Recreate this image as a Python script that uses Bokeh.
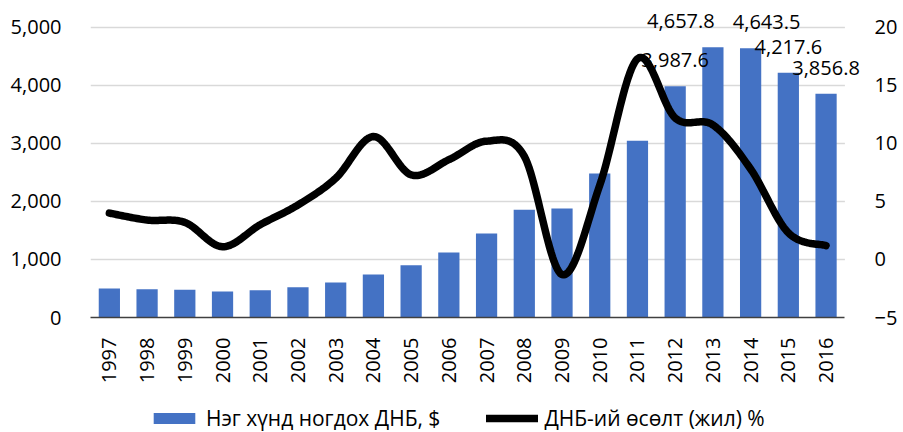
import math
from bokeh.plotting import figure
from bokeh.layouts import column
from bokeh.models import (Range1d, LinearAxis, FixedTicker, NumeralTickFormatter,
                          Legend, LegendItem, ColumnDataSource, LabelSet)
from bokeh.core.properties import value
from bokeh.embed import file_html
from bokeh.resources import INLINE

# ---------------- data ----------------
years = ["1997", "1998", "1999", "2000", "2001", "2002", "2003", "2004", "2005", "2006",
         "2007", "2008", "2009", "2010", "2011", "2012", "2013", "2014", "2015", "2016"]
gdp_per_capita = [500, 488, 477, 448, 471, 523, 603, 741, 902, 1121,
                  1448, 1856, 1879, 2483, 3046, 3987.6, 4657.8, 4643.5, 4217.6, 3856.8]
gdp_growth = [4.0, 3.4, 3.2, 1.1, 3.0, 4.7, 7.0, 10.6, 7.3, 8.6,
              10.2, 8.9, -1.3, 6.4, 17.3, 12.2, 11.6, 7.8, 2.3, 1.2]
left_ticks = [0, 1000, 2000, 3000, 4000, 5000]
right_ticks = [-5, 0, 5, 10, 15, 20]
labeled_years = ["2012", "2013", "2014", "2015", "2016"]
label_dx = [0, -32, 16, 0, 0]          # manual label nudges (px)

bar_name = "Нэг хүнд ногдох ДНБ, $"
line_name = "ДНБ-ий өсөлт (жил) %"

FONT = "Open Sans"
TXT = "#000000"
BAR = "#4472C4"
GRID = "#d9d9d9"

n = len(years)
idx = list(range(n))

# layout constants (pixels)
FRAME_W = 782          # frame spans 90..872; categories occupy the first ~763 px
CAT_PX = 38.16
Y_TOP = 5379           # frame top value on the left axis (5,000 sits 22 px below top)

# ---------------- main figure ----------------
p = figure(width=900, height=400,
           x_range=Range1d(-0.5, -0.5 + FRAME_W / CAT_PX),
           y_range=Range1d(0, Y_TOP), output_backend="svg", toolbar_location=None,
           min_border_left=90, min_border_right=28, min_border_top=5, min_border_bottom=83)
p.outline_line_color = None
p.background_fill_color = "white"
p.border_fill_color = "white"
p.extra_y_ranges = {"g": Range1d(-5, -5 + Y_TOP / 200.0)}

# x axis
xa = p.xaxis[0]
xa.ticker = FixedTicker(ticks=idx)
xa.major_label_overrides = {i: y for i, y in zip(idx, years)}
xa.major_label_orientation = math.pi / 2
xa.bounds = (-0.5, n - 0.5)
xa.major_tick_line_color = None
xa.minor_tick_line_color = None
xa.axis_line_color = "#404040"
xa.axis_line_width = 1.5
xa.major_label_standoff = 14
xa.major_label_text_font = FONT
xa.major_label_text_font_size = "20px"
xa.major_label_text_color = TXT

# left axis
ya = p.yaxis[0]
ya.ticker = FixedTicker(ticks=left_ticks)
ya.formatter = NumeralTickFormatter(format="0,0")
ya.axis_line_color = None
ya.major_tick_line_color = None
ya.minor_tick_line_color = None
ya.major_label_standoff = 23
ya.major_label_text_font = FONT
ya.major_label_text_font_size = "20px"
ya.major_label_text_color = TXT

# right axis
ra = LinearAxis(y_range_name="g", ticker=FixedTicker(ticks=right_ticks))
ra.axis_line_color = None
ra.major_tick_line_color = None
ra.minor_tick_line_color = None
ra.major_label_standoff = 5
ra.major_label_text_font = FONT
ra.major_label_text_font_size = "20px"
ra.major_label_text_color = TXT
p.add_layout(ra, "right")

# horizontal gridlines limited to the category span
p.xgrid.visible = False
p.ygrid.visible = False
grid_y = left_ticks[1:]
p.segment(x0=[-0.5] * len(grid_y), x1=[n - 0.5] * len(grid_y), y0=grid_y, y1=grid_y,
          line_color=GRID, line_width=1.5)

# bars
bars = p.vbar(x=idx, top=gdp_per_capita, width=0.563, fill_color=BAR, line_color=None)

# data labels
lab_i = [years.index(y) for y in labeled_years]
lab_src = ColumnDataSource(dict(
    x=lab_i,
    y=[gdp_per_capita[i] for i in lab_i],
    t=["{:,.1f}".format(gdp_per_capita[i]) for i in lab_i],
    dx=label_dx,
))
labels = LabelSet(x="x", y="y", text="t", x_offset="dx", y_offset=19, source=lab_src,
                  text_align="center", text_baseline="alphabetic",
                  text_font=value(FONT), text_font_size=value("20px"), text_color=TXT)
p.add_layout(labels)

# smoothed growth line (Excel-style bezier smoothing through the points)
def smooth(xs, ys, steps=24):
    P = list(zip(xs, ys))
    ox, oy = [], []
    for i in range(len(P) - 1):
        p0 = P[i - 1] if i > 0 else P[i]
        p1, p2 = P[i], P[i + 1]
        p3 = P[i + 2] if i + 2 < len(P) else P[i + 1]
        c1 = (p1[0] + (p2[0] - p0[0]) / 6.0, p1[1] + (p2[1] - p0[1]) / 6.0)
        c2 = (p2[0] - (p3[0] - p1[0]) / 6.0, p2[1] - (p3[1] - p1[1]) / 6.0)
        for k in range(steps):
            t = k / steps
            a, b, c, d = (1 - t) ** 3, 3 * (1 - t) ** 2 * t, 3 * (1 - t) * t ** 2, t ** 3
            ox.append(a * p1[0] + b * c1[0] + c * c2[0] + d * p2[0])
            oy.append(a * p1[1] + b * c1[1] + c * c2[1] + d * p2[1])
    ox.append(P[-1][0]); oy.append(P[-1][1])
    return ox, oy

sx, sy = smooth(idx, gdp_growth)
line = p.line(sx, sy, y_range_name="g", line_color="black", line_width=7.5,
              line_cap="round", line_join="round", level="overlay")

# ---------------- legend strip ----------------
lg = figure(width=900, height=32, x_range=Range1d(0, 1), y_range=Range1d(0, 1),
            output_backend="svg", toolbar_location=None, x_axis_type=None, y_axis_type=None,
            min_border_left=0, min_border_right=0, min_border_top=0, min_border_bottom=0)
lg.outline_line_color = None
lg.grid.visible = False
# hidden proxies (outside the strip's ranges) that only supply the legend swatches
lg_bar = lg.vbar(x=[-5], top=[-5], width=0.1, fill_color=BAR, line_color=None)
lg_line = lg.line(x=[-5, -4], y=[-5, -5], line_color="black", line_width=7.5, line_cap="round")
legend = Legend(items=[LegendItem(label=bar_name, renderers=[lg_bar]),
                       LegendItem(label=line_name, renderers=[lg_line])],
                orientation="horizontal", location=(58, 0),
                glyph_width=52, glyph_height=14, label_standoff=6, spacing=46,
                padding=0, margin=0, border_line_color=None, background_fill_alpha=0,
                label_text_font=FONT, label_text_font_size="21px", label_text_color=TXT)
lg.add_layout(legend, "center")

layout = column(p, lg, spacing=0)
open("out.html", "w").write(file_html(layout, INLINE))
